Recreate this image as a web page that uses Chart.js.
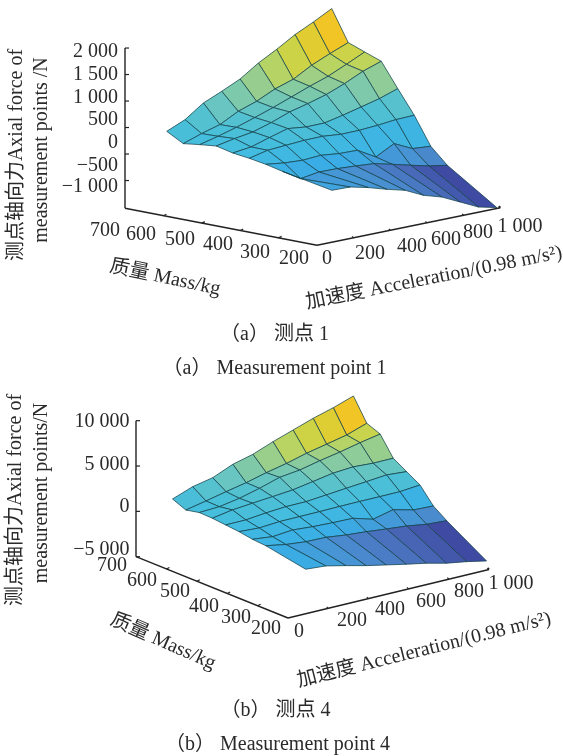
<!DOCTYPE html>
<html>
<head>
<meta charset="utf-8">
<title>Axial force of measurement points</title>
<script src="https://cdn.jsdelivr.net/npm/chart.js@4/dist/chart.umd.min.js"></script>
<style>
  body { margin: 0; background: #fff; width: 563px; height: 756px; position: relative; overflow: hidden; }
  canvas { position: absolute; left: 0; }
  #chart-a { top: 0; }
  #chart-b { top: 378px; }
  .caption {
    position: absolute; left: 0; width: 563px; text-align: center; color: #2a2a2a;
    font: 20px "Liberation Serif", "Noto Sans CJK SC", serif; line-height: 22px; white-space: pre;
  }
</style>
</head>
<body>
<canvas id="chart-a" width="563" height="378"></canvas>
<canvas id="chart-b" width="563" height="378"></canvas>
<div class="caption" style="top:322px;left:-7px">（a） 测点 1</div>
<div class="caption" style="top:356px;left:-7px">（a） Measurement point 1</div>
<div class="caption" style="top:698px;left:-6px">（b） 测点 4</div>
<div class="caption" style="top:732px;left:-4px">（b） Measurement point 4</div>

<script>
// accelerations along each mesh row (unit 0.98 m/s^2)
const accelerations = [100, 200, 300, 400, 500, 600, 700, 800, 900, 1000];

// masses of the mesh rows, back to front (kg)
const massesA = [639, 596, 553, 510, 467, 424, 381, 338, 209];
const massesB = [646, 602, 558, 515, 471, 427, 383, 339, 208];

// measured axial force (N), one row per mass
const forcesA = [
  [443, 593, 836, 986, 1147, 1378, 1566, 1773, 1940, 2122],
  [271, 389, 488, 668, 786, 948, 1060, 1253, 1403, 1540],
  [312, 398, 497, 610, 728, 857, 988, 1106, 1262, 1423],
  [346, 415, 469, 575, 705, 792, 892, 1028, 1190, 1308],
  [274, 317, 423, 522, 482, 486, 561, 647, 734, 852],
  [234, 314, 338, 361, 366, 333, 338, 361, 398, 409],
  [181, 135, 115, 138, 100, 91, -106, 76, -89, -116],
  [109, -100, -46, -53, -74, -100, -184, -273, -357, -415],
  [-70, -78, -160, -263, -353, -518, -621, -786, -951, -1033],
];
const forcesB = [
  [1560, 2381, 2839, 3782, 4350, 5205, 5961, 6716, 7350, 8106],
  [940, 1397, 1888, 2346, 2914, 3394, 3984, 4453, 4933, 5688],
  [1256, 1361, 1753, 2321, 2999, 3269, 3760, 4185, 4676, 5100],
  [1210, 1590, 1794, 1988, 2192, 2572, 2964, 3124, 2997, 3013],
  [1063, 1080, 1317, 1477, 1493, 1697, 1901, 2094, 2299, 2128],
  [918, 791, 951, 967, 984, 1022, 1039, 1033, 1050, 1254],
  [673, 424, 629, 458, 364, 314, -331, 193, -375, -469],
  [559, 157, -70, -119, -400, -571, -809, -1013, -1360, -1498],
  [-265, -436, -938, -1473, -1930, -2388, -2813, -3348, -3706, -4164],
];

// tick marks and their labels
const massTicks = [700, 600, 500, 400, 300, 200];
const accelTicks = [0, 200, 400, 600, 800, 1000];
const accelTickLabels = ["0", "200", "400", "600", "800", "1 000"];
const forceTicksA = [2000, 1500, 1000, 500, 0, -500];
const forceTicksB = [10000, 5000, 0, -5000];
const forceLabelsA = ["2 000", "1 500", "1 000", "500", "0", "−500", "−1 000"];
const forceLabelsB = ["10 000", "5 000", "0", "−5 000"];

// parula-like colour ramp, slightly washed out as in the print
const ramp = ["#3F4BA3", "#4A6DBB", "#4A8ED0", "#3AAEE6", "#42BCE0", "#4FC0D4", "#6CC6BE", "#8FCC98", "#BBD460", "#D8D238", "#F2C527"];

function rampColor(t) {
  const pos = Math.max(0, Math.min(1, t)) * (ramp.length - 1);
  const k = Math.min(Math.floor(pos), ramp.length - 2);
  const c = (hex) => [1, 3, 5].map((n) => parseInt(hex.substr(n, 2), 16));
  const from = c(ramp[k]), to = c(ramp[k + 1]);
  const mix = from.map((v, n) => Math.round(v + (to[n] - v) * (pos - k)));
  return `rgb(${mix[0]},${mix[1]},${mix[2]})`;
}

function drawPanel(canvasId, panel) {
  const { view, masses, forces } = panel;

  // oblique projection of (acceleration, mass, force) onto the page
  const project = (a, m, f) => ({
    x: view.x0 + view.ax * a - view.mx * (m - 200),
    y: view.y0 - view.ay * a - view.my * (m - 200) - view.fy * (f - view.fBase),
  });

  const datasets = [];
  const cells = [];
  // front rows first: Chart.js paints the last dataset first
  for (let i = masses.length - 2; i >= 0; i--) {
    for (let j = 0; j < accelerations.length - 1; j++) {
      const corners = [[i, j], [i + 1, j], [i + 1, j + 1], [i, j + 1], [i, j]];
      const mean = (forces[i][j] + forces[i + 1][j] + forces[i + 1][j + 1] + forces[i][j + 1]) / 4;
      cells.push({ mean, points: corners.map(([r, c]) => project(accelerations[c], masses[r], forces[r][c])) });
    }
  }
  const means = cells.map((c) => c.mean);
  const low = Math.min(...means), high = Math.max(...means);
  cells.forEach((cell) => {
    datasets.push({
      data: cell.points,
      showLine: true,
      fill: "shape",
      backgroundColor: rampColor((cell.mean - low) / (high - low)),
      borderColor: "rgba(20,65,75,0.75)",
      borderWidth: 1,
      pointRadius: 0,
      tension: 0,
    });
  });

  const axisLine = (points, width) => datasets.push({
    data: points,
    showLine: true,
    fill: false,
    borderColor: "#222",
    borderWidth: width,
    pointRadius: 0,
    tension: 0,
  });

  // the three axes
  axisLine([project(0, 700, view.fBase), project(0, 700, panel.forceTop)], 1.4);
  axisLine([project(0, 700, view.fBase), project(0, 200, view.fBase)], 1.4);
  axisLine([project(0, 200, view.fBase), project(1000, 200, view.fBase)], 1.4);
  panel.forceTicks.forEach((f) => {
    const p = project(0, 700, f);
    axisLine([p, { x: p.x + 4, y: p.y }], 1.2);
  });
  massTicks.slice(1, -1).forEach((m) => {
    const p = project(0, m, view.fBase);
    axisLine([p, { x: p.x + 3, y: p.y - 1.5 }], 1.2);
  });
  accelTicks.slice(1).forEach((a) => {
    const p = project(a, 200, view.fBase);
    axisLine([p, { x: p.x - 1.5, y: p.y - 1.5 }], a === 1000 ? 2 : 1.2);
  });

  // axis texts do not sit exactly on their ticks in the figure, so they get their own places
  const axisText = {
    id: "axisText",
    afterDraw(chart) {
      const ctx = chart.ctx;
      ctx.save();
      ctx.fillStyle = "#2a2a2a";
      ctx.textBaseline = "middle";
      panel.texts.forEach((t) => {
        ctx.save();
        ctx.translate(t.x, t.y);
        ctx.rotate((t.rot || 0) * Math.PI / 180);
        ctx.textAlign = t.align || "center";
        ctx.font = `20px "Liberation Serif", "Noto Sans CJK SC", serif`;
        ctx.fillText(t.text, 0, 0);
        ctx.restore();
      });
      ctx.restore();
    },
  };

  new Chart(document.getElementById(canvasId), {
    type: "scatter",
    data: { datasets },
    plugins: [axisText],
    options: {
      responsive: false,
      animation: false,
      layout: { padding: 0 },
      elements: { line: { borderJoinStyle: "round" } },
      scales: {
        x: { type: "linear", min: 0, max: 563, display: false },
        y: { type: "linear", min: 0, max: 378, reverse: true, display: false },
      },
      plugins: { legend: { display: false }, tooltip: { enabled: false } },
    },
  });
}

const labelSpots = (labels, xs, ys, extra) => labels.map((text, n) => ({ text, x: xs[n], y: ys[n], ...extra }));

document.addEventListener("DOMContentLoaded", () => {
  drawPanel("chart-a", {
    masses: massesA,
    forces: forcesA,
    forceTicks: forceTicksA,
    forceTop: 2000,
    view: { x0: 317, y0: 245.3, ax: 0.1833, ay: 0.0375, mx: 0.384, my: 0.074, fy: 0.053, fBase: -1024 },
    texts: [
      ...labelSpots(forceLabelsA, Array(7).fill(118), [52, 75, 98, 120, 143, 166, 187], { align: "right" }),
      ...labelSpots(massTicks.map(String), [105, 141, 180, 218, 255, 294], [231, 235, 240, 245, 253, 259]),
      ...labelSpots(accelTickLabels, [327, 370, 412, 446, 478, 520], [259, 254, 247, 240, 233, 227]),
      { text: "质量 Mass/kg", x: 165, y: 278, rot: 12 },
      { text: "加速度 Acceleration/(0.98 m/s²)", x: 434, y: 278, rot: -11.2 },
      { text: "测点轴向力Axial force of", x: 17, y: 155, rot: -90 },
      { text: "measurement points /N", x: 42, y: 150, rot: -90 },
    ],
  });
  drawPanel("chart-b", {
    masses: massesB,
    forces: forcesB,
    forceTicks: forceTicksB,
    forceTop: 10000,
    view: { x0: 288, y0: 240, ax: 0.201, ay: 0.0485, mx: 0.304, my: 0.1226, fy: 0.009067, fBase: -5000 },
    texts: [
      ...labelSpots(forceLabelsB, Array(4).fill(129.5), [44, 87, 129, 172], { align: "right" }),
      ...labelSpots(massTicks.map(String), [112, 142, 175, 204, 236, 266], [188, 203, 214, 229, 240, 251]),
      ...labelSpots(accelTickLabels, [299, 352, 390, 431, 469, 511], [254, 243, 232, 224, 214, 206]),
      { text: "质量 Mass/kg", x: 163, y: 264, rot: 23.8 },
      { text: "加速度 Acceleration/(0.98 m/s²)", x: 424, y: 272, rot: -14 },
      { text: "测点轴向力Axial force of", x: 16, y: 122, rot: -90 },
      { text: "measurement points/N", x: 42, y: 115, rot: -90 },
    ],
  });
});
</script>
</body>
</html>
